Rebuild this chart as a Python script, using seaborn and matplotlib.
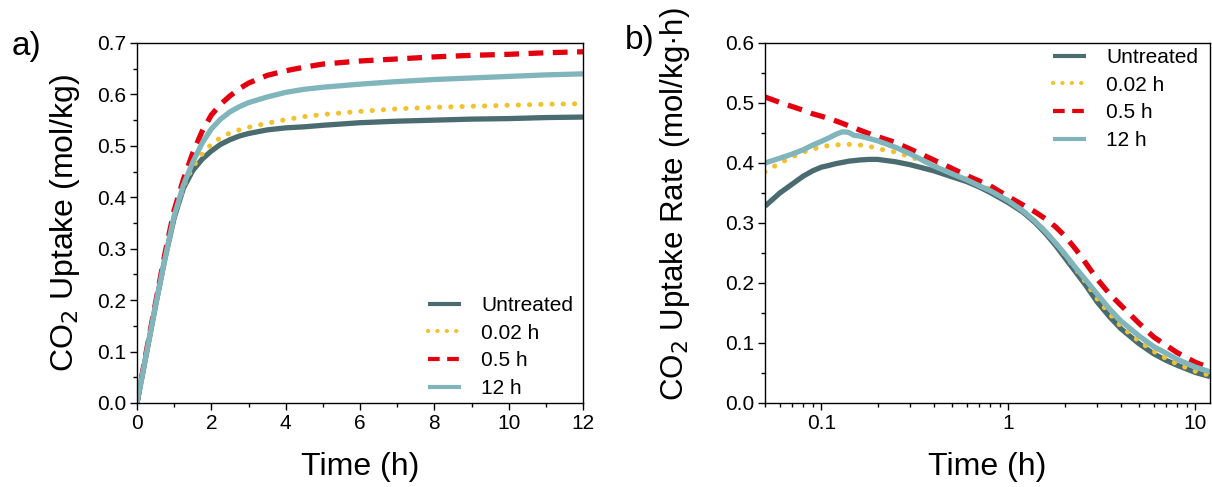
import matplotlib
matplotlib.use("Agg")
import matplotlib.pyplot as plt
from matplotlib.ticker import MultipleLocator, LogLocator, NullFormatter, FuncFormatter
import seaborn as sns
import pandas as pd

# ---- CO2 uptake vs time (h) ----
uptake_time = [0, 0.25, 0.5, 0.75, 1.0, 1.25, 1.5, 1.75, 2.0, 2.25, 2.5, 2.75,
               3.0, 3.5, 4.0, 4.5, 5, 6, 7, 8, 9, 10, 11, 12]
uptake_untreated = [0, 0.095, 0.19, 0.28, 0.360, 0.418, 0.452, 0.474, 0.490, 0.503,
                    0.512, 0.519, 0.524, 0.531, 0.535, 0.537, 0.540, 0.545, 0.548,
                    0.550, 0.552, 0.553, 0.555, 0.556]
uptake_002h = [0, 0.095, 0.19, 0.28, 0.362, 0.421, 0.459, 0.484, 0.503, 0.516,
               0.525, 0.531, 0.536, 0.544, 0.551, 0.557, 0.561, 0.567, 0.572,
               0.575, 0.577, 0.579, 0.581, 0.582]
uptake_05h = [0, 0.1, 0.195, 0.29, 0.375, 0.435, 0.486, 0.528, 0.560, 0.581,
              0.597, 0.611, 0.622, 0.637, 0.646, 0.653, 0.659, 0.665, 0.669,
              0.673, 0.676, 0.678, 0.681, 0.683]
uptake_12h = [0, 0.095, 0.19, 0.28, 0.364, 0.424, 0.468, 0.505, 0.533, 0.552,
              0.566, 0.576, 0.584, 0.595, 0.604, 0.610, 0.614, 0.620, 0.625,
              0.629, 0.632, 0.635, 0.638, 0.640]

# ---- CO2 uptake rate vs time (h), log time axis ----
rate_time = [0.05, 0.06, 0.07, 0.08, 0.09, 0.1, 0.11, 0.12, 0.13, 0.14, 0.15, 0.16,
             0.18, 0.2, 0.25, 0.3, 0.4, 0.5, 0.6, 0.7, 0.8, 1.0, 1.2, 1.4, 1.6, 1.8,
             2.0, 2.3, 2.6, 3.0, 3.5, 4.0, 5.0, 6.0, 7.0, 8.0, 10.0, 12.0]
rate_untreated = [0.328, 0.350, 0.365, 0.378, 0.387, 0.393, 0.396, 0.399, 0.401, 0.403,
                  0.404, 0.405, 0.406, 0.406, 0.402, 0.397, 0.387, 0.377, 0.369, 0.360,
                  0.351, 0.334, 0.318, 0.300, 0.281, 0.262, 0.243, 0.218, 0.196, 0.168,
                  0.143, 0.124, 0.099, 0.082, 0.071, 0.063, 0.051, 0.044]
rate_002h = [0.385, 0.400, 0.410, 0.418, 0.423, 0.427, 0.429, 0.430, 0.431, 0.431,
             0.431, 0.430, 0.428, 0.424, 0.418, 0.410, 0.397, 0.385, 0.375, 0.365,
             0.356, 0.338, 0.321, 0.303, 0.285, 0.266, 0.248, 0.223, 0.201, 0.173,
             0.148, 0.128, 0.103, 0.086, 0.074, 0.065, 0.053, 0.046]
rate_05h = [0.510, 0.501, 0.494, 0.488, 0.482, 0.478, 0.474, 0.470, 0.466, 0.462,
            0.459, 0.455, 0.449, 0.444, 0.434, 0.423, 0.405, 0.391, 0.379, 0.370,
            0.362, 0.344, 0.330, 0.318, 0.306, 0.293, 0.279, 0.256, 0.233, 0.206,
            0.181, 0.163, 0.133, 0.110, 0.096, 0.084, 0.068, 0.058]
rate_12h = [0.400, 0.408, 0.415, 0.422, 0.430, 0.436, 0.442, 0.448, 0.452, 0.451,
            0.446, 0.445, 0.441, 0.437, 0.426, 0.415, 0.395, 0.382, 0.372, 0.362,
            0.354, 0.337, 0.320, 0.302, 0.284, 0.266, 0.249, 0.225, 0.205, 0.181,
            0.156, 0.137, 0.112, 0.094, 0.083, 0.073, 0.060, 0.052]

series_labels = ["Untreated", "0.02 h", "0.5 h", "12 h"]
colors = ["#4a6b70", "#f2c12e", "#e3000f", "#80b5bb"]

sns.set_theme(style="ticks")
plt.rcParams["font.family"] = ["Liberation Sans", "DejaVu Sans"]
plt.rcParams.update({
    "axes.linewidth": 1.0,
    "text.color": "black",
    "axes.labelcolor": "black",
    "xtick.color": "black",
    "ytick.color": "black",
    "axes.edgecolor": "black",
})

line_styles = [
    dict(linestyle="-", linewidth=3.8, solid_capstyle="butt"),
    dict(linestyle=(0, (0.05, 2.2)), linewidth=3.6, dash_capstyle="round"),
    dict(linestyle=(0, (2.8, 1.8)), linewidth=3.8, dash_capstyle="butt"),
    dict(linestyle="-", linewidth=3.8, solid_capstyle="butt"),
]

W, H = 1212, 487
fig = plt.figure(figsize=(W / 100, H / 100), dpi=100)
ax1 = fig.add_axes([137 / W, 1 - 403 / H, 446 / W, 360 / H])
ax2 = fig.add_axes([765 / W, 1 - 403 / H, 445 / W, 360 / H])

uptake_df = pd.DataFrame({"time": uptake_time * 4,
                          "value": uptake_untreated + uptake_002h + uptake_05h + uptake_12h,
                          "sample": sum([[s] * len(uptake_time) for s in series_labels], [])})
rate_df = pd.DataFrame({"time": rate_time * 4,
                        "value": rate_untreated + rate_002h + rate_05h + rate_12h,
                        "sample": sum([[s] * len(rate_time) for s in series_labels], [])})

for ax, df in ((ax1, uptake_df), (ax2, rate_df)):
    for lab, col, st in zip(series_labels, colors, line_styles):
        sub = df[df["sample"] == lab]
        sns.lineplot(data=sub, x="time", y="value", ax=ax, color=col, label=lab,
                     estimator=None, sort=True, **st)

# axis (a)
ax1.set_xlim(0, 12)
ax1.set_ylim(0, 0.7)
ax1.xaxis.set_major_locator(MultipleLocator(2))
ax1.xaxis.set_minor_locator(MultipleLocator(1))
ax1.yaxis.set_major_locator(MultipleLocator(0.1))
ax1.yaxis.set_minor_locator(MultipleLocator(0.05))
ax1.yaxis.set_major_formatter(FuncFormatter(lambda v, p: f"{v:.1f}"))
ax1.set_ylabel("CO$_2$ Uptake (mol/kg)", fontsize=23)

# axis (b)
ax2.set_xscale("log")
ax2.set_xlim(0.05, 12)
ax2.set_ylim(0, 0.6)
ax2.xaxis.set_major_locator(LogLocator(base=10, numticks=10))
ax2.xaxis.set_minor_locator(LogLocator(base=10, subs=[2, 3, 4, 5, 6, 7, 8, 9], numticks=20))
ax2.xaxis.set_minor_formatter(NullFormatter())
ax2.xaxis.set_major_formatter(FuncFormatter(lambda v, p: f"{v:g}"))
ax2.yaxis.set_major_locator(MultipleLocator(0.1))
ax2.yaxis.set_minor_locator(MultipleLocator(0.05))
ax2.yaxis.set_major_formatter(FuncFormatter(lambda v, p: f"{v:.1f}"))
ax2.set_ylabel("CO$_2$ Uptake Rate (mol/kg\u00b7h)", fontsize=22.5)

for ax in (ax1, ax2):
    ax.set_xlabel("Time (h)", fontsize=23)
    for sp in ax.spines.values():
        sp.set_visible(True)
        sp.set_color("black")
        sp.set_linewidth(1.0)
    ax.tick_params(which="major", direction="out", length=5, width=1, labelsize=15,
                   pad=3, colors="black", top=False, right=False)
    ax.tick_params(which="minor", direction="out", length=3, width=1,
                   top=False, right=False)
    ax.xaxis.set_label_coords(0.5, -0.135)

ax1.yaxis.set_label_coords(-0.123, 0.5)
ax2.yaxis.set_label_coords(-0.164, 0.553)

leg_kw = dict(loc="upper left", frameon=False, fontsize=15, handlelength=1.6,
              handletextpad=0.95, labelspacing=0.42, borderpad=0, borderaxespad=0)
leg1 = ax1.legend(bbox_to_anchor=(428 / W, 1 - 296 / H),
                  bbox_transform=fig.transFigure, **leg_kw)
leg2 = ax2.legend(bbox_to_anchor=(1053 / W, 1 - 48 / H),
                  bbox_transform=fig.transFigure, **leg_kw)
for leg in (leg1, leg2):
    for h in leg.legend_handles:
        h.set_linewidth(3.0)

fig.text(12 / W, 1 - 47 / H, "a)", fontsize=24, va="center", ha="left")
fig.text(625 / W, 1 - 40 / H, "b)", fontsize=24, va="center", ha="left")

fig.savefig("out.png", dpi=100)
